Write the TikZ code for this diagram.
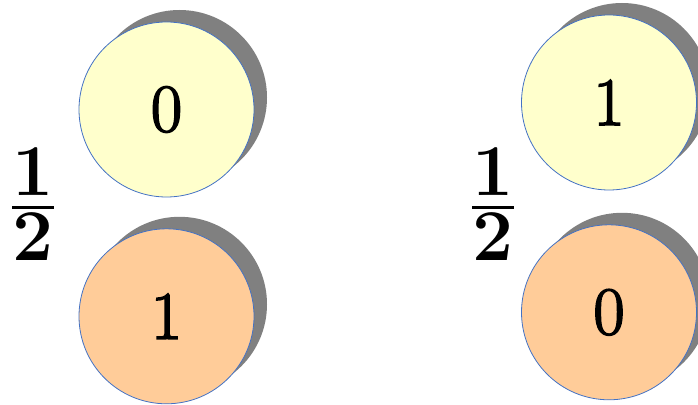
\RequirePackage{fix-cm}
\documentclass[tikz,border=0pt]{standalone}
\usepackage{amsmath}
\usepackage{fontspec}
\usetikzlibrary{shadows, positioning}

\newfontface\balldigits{Latin Modern Roman}[FakeBold=2.5]

\definecolor{ballyellow}{RGB}{255,255,204}
\definecolor{ballorange}{RGB}{255,204,153}
\definecolor{ballrim}{RGB}{68,114,196}

\begin{document}
\begin{tikzpicture}[
    x=1pt, y=1pt,
    ball/.style={circle, draw=ballrim, line width=0.8pt, minimum size=175pt,
                 inner sep=0pt, font=\balldigits\fontsize{68}{80}\selectfont,
                 drop shadow={shadow xshift=13pt, shadow yshift=12pt,
                              fill=black!50, opacity=1}},
    upper/.style={ball, fill=ballyellow},
    lower/.style={ball, fill=ballorange},
    half/.style={inner sep=0pt, font=\fontsize{73}{88}\selectfont\boldmath}
  ]
  \useasboundingbox (0,0) rectangle (698,404);

  % left pair
  \node[upper] (l-top) at (166.5,294.5) {0};
  \node[lower, below=31pt of l-top] (l-bot) {1};
  \node[half] (l-half) at (33,200) {$\genfrac{}{}{3.5pt}{1}{\textstyle 1}{\textstyle 2}$};

  % right pair
  \node[upper] (r-top) at (609,301.5) {1};
  \node[lower, below=34pt of r-top] (r-bot) {0};
  \node[half] (r-half) at (493,200) {$\genfrac{}{}{3.5pt}{1}{\textstyle 1}{\textstyle 2}$};
\end{tikzpicture}
\end{document}
